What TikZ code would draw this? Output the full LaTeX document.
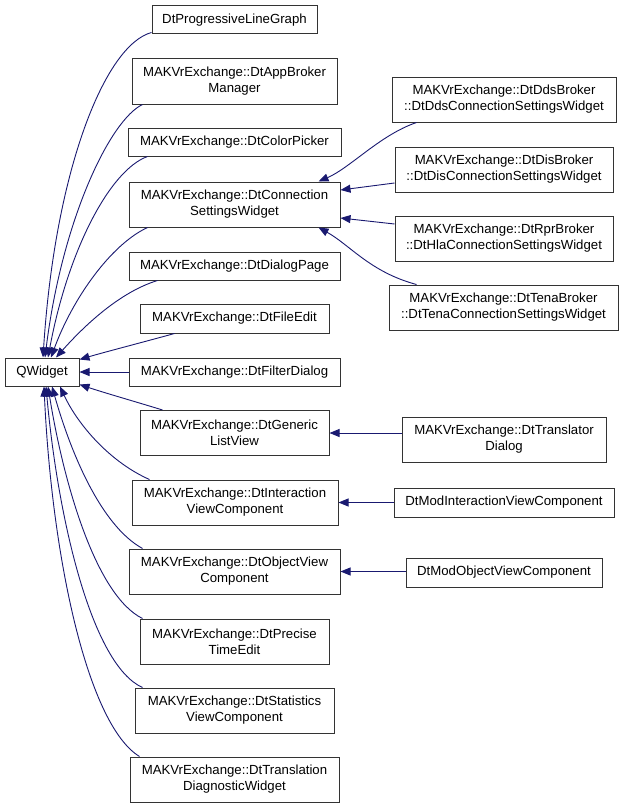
\documentclass[tikz,border=0pt]{standalone}
\usepackage{fontspec}
\setmainfont{Liberation Sans}
\usetikzlibrary{arrows.meta}
\definecolor{edgeblue}{HTML}{191970}
\definecolor{boxline}{HTML}{333333}
\tikzset{
  box/.style={draw=boxline, line width=1pt, fill=white, inner sep=0pt, align=center,
    font=\fontsize{13.2}{16}\selectfont, text=black},
  edge/.style={draw=edgeblue, line width=0.9pt, -{Triangle[length=10pt,width=8pt]}},
}
\begin{document}
\begin{tikzpicture}[x=1pt,y=-1pt]
\useasboundingbox (0,0) rectangle (624,808);
% left column
\node[box, minimum width=165, minimum height=28] (plg) at (234.5,20) {DtProgressiveLineGraph};
\node[box, minimum width=205, minimum height=45] (abm) at (234.5,81.5) {MAKVrExchange::DtAppBroker\\Manager};
\node[box, minimum width=213, minimum height=28] (cp) at (234.5,142) {MAKVrExchange::DtColorPicker};
\node[box, minimum width=211, minimum height=45] (csw) at (234.5,204.5) {MAKVrExchange::DtConnection\\SettingsWidget};
\node[box, minimum width=211, minimum height=28] (dp) at (234.5,266) {MAKVrExchange::DtDialogPage};
\node[box, minimum width=189, minimum height=29] (fe) at (234.5,318.5) {MAKVrExchange::DtFileEdit};
\node[box, minimum width=74, minimum height=28] (qw) at (42,372) {QWidget};
\node[box, minimum width=211, minimum height=28] (fd) at (234.5,372) {MAKVrExchange::DtFilterDialog};
\node[box, minimum width=189, minimum height=45] (glv) at (234.5,433) {MAKVrExchange::DtGeneric\\ListView};
\node[box, minimum width=206, minimum height=45] (ivc) at (235,502.5) {MAKVrExchange::DtInteraction\\ViewComponent};
\node[box, minimum width=211, minimum height=45] (ovc) at (234.5,571.5) {MAKVrExchange::DtObjectView\\Component};
\node[box, minimum width=189, minimum height=45] (pte) at (234.5,641.5) {MAKVrExchange::DtPrecise\\TimeEdit};
\node[box, minimum width=199, minimum height=45] (svc) at (234.5,710.5) {MAKVrExchange::DtStatistics\\ViewComponent};
\node[box, minimum width=209, minimum height=45] (tdw) at (234.5,779.5) {MAKVrExchange::DtTranslation\\DiagnosticWidget};
% right column
\node[box, minimum width=224, minimum height=45] (dds) at (504,99.5) {MAKVrExchange::DtDdsBroker\\::DtDdsConnectionSettingsWidget};
\node[box, minimum width=218, minimum height=45] (dis) at (504,169.5) {MAKVrExchange::DtDisBroker\\::DtDisConnectionSettingsWidget};
\node[box, minimum width=218, minimum height=45] (rpr) at (504,238.5) {MAKVrExchange::DtRprBroker\\::DtHlaConnectionSettingsWidget};
\node[box, minimum width=229, minimum height=45] (tena) at (503.5,307.5) {MAKVrExchange::DtTenaBroker\\::DtTenaConnectionSettingsWidget};
\node[box, minimum width=204, minimum height=45] (td) at (504,439.5) {MAKVrExchange::DtTranslator\\Dialog};
\node[box, minimum width=220, minimum height=29] (mivc) at (504,502.5) {DtModInteractionViewComponent};
\node[box, minimum width=196, minimum height=29] (movc) at (504,572.5) {DtModObjectViewComponent};
% edges to QWidget
\draw[edge] ([yshift=2]plg.south west) .. controls (105,45) and (55,170) .. ([xshift=1]qw.north);
\draw[edge] ([xshift=11]abm.south west) .. controls (110,120) and (62,220) .. ([xshift=3]qw.north);
\draw[edge] ([xshift=20]cp.south west) .. controls (110,170) and (68,250) .. ([xshift=6]qw.north);
\draw[edge] ([xshift=19]csw.south west) .. controls (110,245) and (72,300) .. ([xshift=9]qw.north);
\draw[edge] ([xshift=29]dp.south west) .. controls (120,292) and (85,325) .. ([xshift=14]qw.north);
\draw[edge] ([xshift=35]fe.south west) .. controls (140,343) and (105,352) .. ([yshift=-2]qw.north east);
\draw[edge] (fd.west) -- (qw.east);
\draw[edge] ([xshift=23]glv.north west) .. controls (140,403) and (105,393) .. ([yshift=2]qw.south east);
\draw[edge] ([xshift=18]ivc.north west) .. controls (110,462) and (78,425) .. ([xshift=18]qw.south);
\draw[edge] ([xshift=14]ovc.north west) .. controls (100,525) and (70,450) .. ([xshift=10]qw.south);
\draw[edge] ([xshift=3]pte.north west) .. controls (95,595) and (63,480) .. ([xshift=6]qw.south);
\draw[edge] ([xshift=8]svc.north west) .. controls (92,665) and (58,520) .. ([xshift=4]qw.south);
\draw[edge] ([xshift=10]tdw.north west) .. controls (88,725) and (52,560) .. ([xshift=2]qw.south);
% edges to ConnectionSettingsWidget
\draw[edge] ([xshift=25]dds.south west) .. controls (380,135) and (350,168) .. ([xshift=-22]csw.north east);
\draw[edge] ([yshift=-13.5]dis.west) -- ([yshift=14.5]csw.east);
\draw[edge] ([yshift=14.5]rpr.west) -- ([yshift=-13.5]csw.east);
\draw[edge] ([xshift=28]tena.north west) .. controls (370,272) and (350,245) .. ([xshift=-22]csw.south east);
% right edges
\draw[edge] (td.west |- glv.east) -- (glv.east);
\draw[edge] (mivc.west |- ivc.east) -- (ivc.east);
\draw[edge] (movc.west |- ovc.east) -- (ovc.east);
\end{tikzpicture}
\end{document}
